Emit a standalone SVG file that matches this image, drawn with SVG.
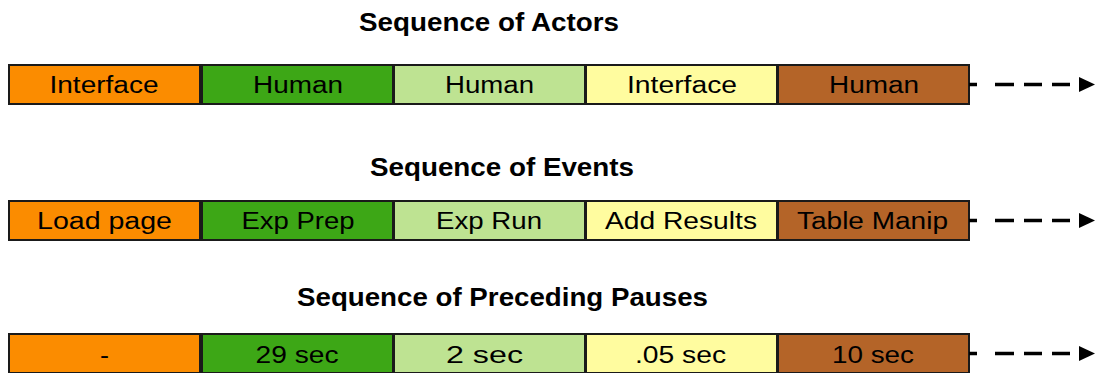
<svg xmlns="http://www.w3.org/2000/svg" width="1096" height="373" viewBox="0 0 1096 373">
<style>
.title{font-family:"Liberation Sans",Arial,sans-serif;font-weight:bold;font-size:25px;fill:#000;text-anchor:middle}
.lbl{font-family:"Liberation Sans",Arial,sans-serif;font-size:23px;fill:#000;text-anchor:middle}
.box{stroke:#1a1a1a;stroke-width:2}
.c1{fill:#FB8C00}.c2{fill:#3DA716}.c3{fill:#BEE392}.c4{fill:#FFFC9F}.c5{fill:#B46428}
.dash{stroke:#000;stroke-width:3.5;fill:none;stroke-dasharray:8,18,19,10,18,10,18,10}
.head{fill:#000}
</style>
<rect x="0" y="0" width="1096" height="373" fill="#fff"/>
<text class="title" x="489" y="31" textLength="260" lengthAdjust="spacingAndGlyphs">Sequence of Actors</text>
<text class="title" x="502" y="176" textLength="264" lengthAdjust="spacingAndGlyphs">Sequence of Events</text>
<text class="title" x="502.5" y="306" textLength="411" lengthAdjust="spacingAndGlyphs">Sequence of Preceding Pauses</text>

<g id="a1"><rect class="box c1" x="9" y="65" width="191" height="39"/><text class="lbl" x="104" y="93" textLength="109" lengthAdjust="spacingAndGlyphs">Interface</text></g>
<g id="a2"><rect class="box c2" x="202" y="65" width="191" height="39"/><text class="lbl" x="298" y="93" textLength="90" lengthAdjust="spacingAndGlyphs">Human</text></g>
<g id="a3"><rect class="box c3" x="394" y="65" width="191" height="39"/><text class="lbl" x="489.5" y="93" textLength="89" lengthAdjust="spacingAndGlyphs">Human</text></g>
<g id="a4"><rect class="box c4" x="586" y="65" width="191" height="39"/><text class="lbl" x="682" y="93" textLength="110" lengthAdjust="spacingAndGlyphs">Interface</text></g>
<g id="a5"><rect class="box c5" x="778" y="65" width="191" height="39"/><text class="lbl" x="874" y="93" textLength="90" lengthAdjust="spacingAndGlyphs">Human</text></g>

<g id="e1"><rect class="box c1" x="9" y="201" width="191" height="39"/><text class="lbl" x="104.5" y="229" textLength="135" lengthAdjust="spacingAndGlyphs">Load page</text></g>
<g id="e2"><rect class="box c2" x="202" y="201" width="191" height="39"/><text class="lbl" x="298" y="229" textLength="113" lengthAdjust="spacingAndGlyphs">Exp Prep</text></g>
<g id="e3"><rect class="box c3" x="394" y="201" width="191" height="39"/><text class="lbl" x="489" y="229" textLength="106" lengthAdjust="spacingAndGlyphs">Exp Run</text></g>
<g id="e4"><rect class="box c4" x="586" y="201" width="191" height="39"/><text class="lbl" x="681" y="229" textLength="152" lengthAdjust="spacingAndGlyphs">Add Results</text></g>
<g id="e5"><rect class="box c5" x="778" y="201" width="191" height="39"/><text class="lbl" x="872.5" y="229" textLength="151" lengthAdjust="spacingAndGlyphs">Table Manip</text></g>

<g id="p1"><rect class="box c1" x="9" y="334" width="191" height="39"/><text class="lbl" x="104.5" y="363" textLength="9" lengthAdjust="spacingAndGlyphs">-</text></g>
<g id="p2"><rect class="box c2" x="202" y="334" width="191" height="39"/><text class="lbl" x="297" y="363" textLength="83" lengthAdjust="spacingAndGlyphs">29 sec</text></g>
<g id="p3"><rect class="box c3" x="394" y="334" width="191" height="39"/><text class="lbl" x="484.5" y="363" textLength="77" lengthAdjust="spacingAndGlyphs">2 sec</text></g>
<g id="p4"><rect class="box c4" x="586" y="334" width="191" height="39"/><text class="lbl" x="680.5" y="363" textLength="91" lengthAdjust="spacingAndGlyphs">.05 sec</text></g>
<g id="p5"><rect class="box c5" x="778" y="334" width="191" height="39"/><text class="lbl" x="873" y="363" textLength="82" lengthAdjust="spacingAndGlyphs">10 sec</text></g>

<g id="connectors">
<line class="dash" x1="969" y1="84.5" x2="1079" y2="84.5"/>
<polygon class="head" points="1079,77 1095,84.5 1079,92"/>
<line class="dash" x1="969" y1="220.5" x2="1079" y2="220.5"/>
<polygon class="head" points="1079,213 1095,220.5 1079,228"/>
<line class="dash" x1="969" y1="353.5" x2="1079" y2="353.5"/>
<polygon class="head" points="1079,346 1095,353.5 1079,361"/>
</g>
</svg>
